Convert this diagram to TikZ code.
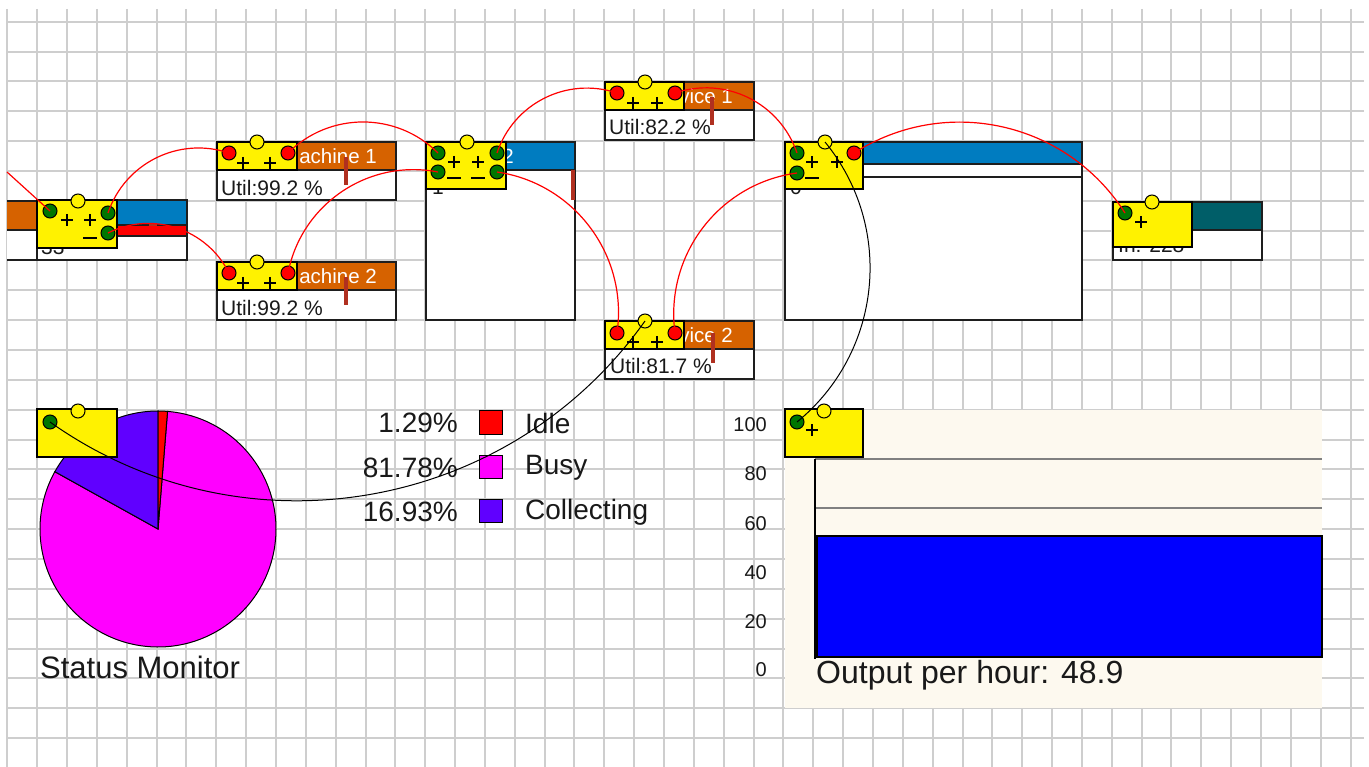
\documentclass[tikz,border=0pt]{standalone}
\usepackage{fontspec}
\setmainfont{Liberation Sans}
\definecolor{gridc}{RGB}{206,206,206}
\definecolor{orangeH}{RGB}{214,98,0}
\definecolor{blueH}{RGB}{0,124,192}
\definecolor{tealH}{RGB}{0,94,104}
\definecolor{barc}{RGB}{176,48,32}
\definecolor{dotgreen}{RGB}{0,118,0}
\definecolor{beige}{RGB}{253,249,239}
\definecolor{purpleC}{RGB}{96,0,255}
\definecolor{magentaC}{RGB}{255,0,255}
\definecolor{chartblue}{RGB}{0,0,255}
\definecolor{chartgray}{RGB}{128,128,128}
\definecolor{outl}{RGB}{30,30,30}
\definecolor{txt}{RGB}{25,25,25}
\tikzset{
  gridline/.style={draw=gridc, line width=2pt},
  boxline/.style={draw=outl, line width=1.3pt},
  yelbox/.style={fill=yellow, draw=black, line width=1.3pt},
  portdot/.style={circle, draw=black, line width=1pt, minimum size=14pt, inner sep=0pt},
  gdot/.style={portdot, fill=dotgreen},
  rdot/.style={portdot, fill=red},
  ydot/.style={portdot, fill=yellow},
  signline/.style={draw=black, line width=1.3pt},
  redwire/.style={draw=red, line width=1.2pt},
  blackwire/.style={draw=black, line width=1pt},
  hdrtext/.style={text=white, font=\fontsize{20.5}{24}\selectfont, inner sep=0pt, anchor=east},
  utiltext/.style={text=txt, font=\fontsize{21}{24}\selectfont, inner sep=0pt, anchor=west},
  fragtext/.style={text=txt, font=\fontsize{21}{24}\selectfont, inner sep=0pt, anchor=base west},
  axlab/.style={text=txt, font=\fontsize{20}{23}\selectfont, inner sep=0pt, anchor=east},
  legnum/.style={text=txt, font=\fontsize{28}{32}\selectfont, inner sep=0pt, anchor=east},
  leglab/.style={text=txt, font=\fontsize{28}{32}\selectfont, inner sep=0pt, anchor=west},
  bigtext/.style={text=txt, font=\fontsize{31}{36}\selectfont, inner sep=0pt, anchor=west},
  slice/.style={draw=black, line width=1pt},
  plussign/.pic={\draw[signline] (-6,0) -- (6,0) (0,-6) -- (0,6);},
  minussign/.pic={\draw[signline] (-7,0) -- (7,0);}
}
\begin{document}
\begin{tikzpicture}[x=1pt,y=-1pt]
\useasboundingbox (0,0) rectangle (1369,767);
\clip (0,0) rectangle (1369,767);
\fill[white] (0,0) rectangle (1369,767);
% grid
\foreach \i in {0,...,45} \draw[gridline] ({7.3+29.85*\i},9) -- ({7.3+29.85*\i},768);
\foreach \j in {0,...,25} \draw[gridline] (7,{21.7+29.85*\j}) -- (1364,{21.7+29.85*\j});

% ---------- bar chart ----------
\fill[beige] (785,410) rectangle (1322,708);
\draw[chartgray, line width=1.5pt] (815,459) -- (1322,459) (815,508) -- (1322,508);
\draw[black, line width=1.5pt] (815,459) -- (815,659);
\filldraw[fill=chartblue, draw=black, line width=1.3pt] (817,536) rectangle (1322,657);
\node[axlab] (y100) at (767,425) {100};
\node[axlab] (y80) at (767,474) {80};
\node[axlab] (y60) at (767,524) {60};
\node[axlab] (y40) at (767,573) {40};
\node[axlab] (y20) at (767,622) {20};
\node[axlab] (y0) at (767,670) {0};
\node[bigtext, font=\fontsize{32}{37}\selectfont] (oph) at (816,675) {Output per hour: 48.9};
\filldraw[yelbox] (785,409) rectangle (863,457);
\node[ydot] (ch_st) at (824,411) {};
\node[gdot] (chart_in) at (797,422) {};
\pic at (812,430) {plussign};

% ---------- pie chart ----------
\begin{scope}[shift={(158,529)}, y=1pt]
  \filldraw[fill=magentaC, slice] (0,0) -- (85.36:118) arc[start angle=85.36, end angle=-209.05, radius=118] -- cycle;
  \filldraw[fill=purpleC, slice] (0,0) -- (90:118) arc[start angle=90, end angle=150.95, radius=118] -- cycle;
  \filldraw[fill=red, slice] (0,0) -- (85.36:118) arc[start angle=85.36, end angle=90, radius=118] -- cycle;
\end{scope}
\filldraw[yelbox] (37,409) rectangle (117,457);
\node[ydot] (pie_st) at (78,411) {};
\node[gdot] (pie_in) at (50,422) {};
\node[bigtext] (stm) at (40,667) {Status Monitor};
% legend
\node[legnum] (n1) at (458,423) {1.29\%};
\node[legnum] (n2) at (458,468) {81.78\%};
\node[legnum] (n3) at (458,512) {16.93\%};
\filldraw[fill=red, slice] (479,411) rectangle (502,434);
\filldraw[fill=magentaC, slice] (479,455) rectangle (502,478);
\filldraw[fill=purpleC, slice] (479,499) rectangle (502,522);
\node[leglab] (l1) at (525,423) {Idle};
\node[leglab] (l2) at (525,468) {Busy};
\node[leglab] (l3) at (525,512) {Collecting};

% ---------- left partial element ----------
\fill[orangeH] (7,201) rectangle (37,230);
\fill[white] (7,230) rectangle (37,260);
\draw[boxline] (7,201) -- (37,201) (7,230) -- (37,230) (7,260) -- (37,260);

% ---------- element A ----------
\filldraw[fill=white, boxline] (37,200) rectangle (187,260);
\filldraw[fill=blueH, boxline] (117,200) rectangle (187,225);
\filldraw[fill=red, boxline] (117,225) rectangle (187,236);
\draw[barc, line width=2pt] (149,225) -- (157,225);
\node[fragtext] (aq) at (41,255) {33};
\filldraw[yelbox] (37,200) rectangle (117,248);
\node[ydot] (a_st) at (78,201) {};
\node[gdot] (a_in) at (50,211) {};
\node[gdot] (a_o1) at (108,213) {};
\node[gdot] (a_o2) at (108,233) {};
\pic at (67,220) {plussign};
\pic at (90,220) {plussign};
\pic at (90,238) {minussign};

% ---------- machine 1 ----------
\filldraw[fill=white, boxline] (217,142) rectangle (396,200);
\filldraw[fill=orangeH, boxline] (297,142) rectangle (396,170);
\node[hdrtext] (m1h) at (377,156) {achine 1};
\node[utiltext] (m1u) at (221,188) {Util:99.2 \%};
\fill[barc] (344,157) rectangle (348,185);
\filldraw[yelbox] (217,142) rectangle (297,170);
\node[ydot] (m1_st) at (257,142) {};
\node[rdot] (m1_in) at (229,153) {};
\node[rdot] (m1_out) at (288,153) {};
\pic at (243,163) {plussign};
\pic at (270,163) {plussign};

% ---------- machine 2 ----------
\filldraw[fill=white, boxline] (217,262) rectangle (396,320);
\filldraw[fill=orangeH, boxline] (297,262) rectangle (396,290);
\node[hdrtext] (m2h) at (377,276) {achine 2};
\node[utiltext] (m2u) at (221,308) {Util:99.2 \%};
\fill[barc] (344,277) rectangle (348,305);
\filldraw[yelbox] (217,262) rectangle (297,290);
\node[ydot] (m2_st) at (257,262) {};
\node[rdot] (m2_in) at (229,273) {};
\node[rdot] (m2_out) at (288,273) {};
\pic at (243,283) {plussign};
\pic at (270,283) {plussign};

% ---------- element C ----------
\filldraw[fill=white, boxline] (426,142) rectangle (575,320);
\filldraw[fill=blueH, boxline] (505,142) rectangle (575,170);
\node[hdrtext] (chd) at (514,156) {2};
\fill[barc] (571,170) rectangle (575,200);
\node[fragtext] (cf) at (432,195) {1};
\filldraw[yelbox] (426,142) rectangle (506,189);
\node[ydot] (c_st) at (467,142) {};
\node[gdot] (c_in1) at (438,153) {};
\node[gdot] (c_in2) at (438,172) {};
\node[gdot] (c_o1) at (497,153) {};
\node[gdot] (c_o2) at (497,172) {};
\pic at (454,162) {plussign};
\pic at (478,162) {plussign};
\pic at (454,178) {minussign};
\pic at (478,178) {minussign};

% ---------- service 1 ----------
\filldraw[fill=white, boxline] (605,82) rectangle (754,140);
\filldraw[fill=orangeH, boxline] (684,82) rectangle (754,110);
\node[hdrtext] (s1h) at (733,96) {vice 1};
\node[utiltext] (s1u) at (609,127) {Util:82.2 \%};
\fill[barc] (710,97) rectangle (714,125);
\filldraw[yelbox] (605,82) rectangle (684,110);
\node[ydot] (s1_st) at (645,82) {};
\node[rdot] (s1_in) at (617,93) {};
\node[rdot] (s1_out) at (675,93) {};
\pic at (633,103) {plussign};
\pic at (657,103) {plussign};

% ---------- service 2 ----------
\filldraw[fill=white, boxline] (605,321) rectangle (754,379);
\filldraw[fill=orangeH, boxline] (684,321) rectangle (754,349);
\node[hdrtext] (s2h) at (733,335) {vice 2};
\node[utiltext] (s2u) at (610,366) {Util:81.7 \%};
\fill[barc] (711,333) rectangle (715,363);
\filldraw[yelbox] (605,321) rectangle (684,349);
\node[ydot] (s2_st) at (645,321) {};
\node[rdot] (s2_in) at (617,333) {};
\node[rdot] (s2_out) at (675,333) {};
\pic at (633,342) {plussign};
\pic at (657,342) {plussign};

% ---------- element D ----------
\filldraw[fill=white, boxline] (785,142) rectangle (1082,320);
\filldraw[fill=blueH, boxline] (863,142) rectangle (1082,164);
\draw[boxline] (863,177) -- (1082,177);
\node[fragtext] (df) at (790,195) {0};
\filldraw[yelbox] (785,142) rectangle (863,189);
\node[ydot] (d_st) at (825,142) {};
\node[gdot] (d_in1) at (797,153) {};
\node[gdot] (d_in2) at (797,173) {};
\node[rdot] (d_out) at (854,153) {};
\pic at (812,162) {plussign};
\pic at (837,162) {plussign};
\pic at (812,178) {minussign};

% ---------- element E ----------
\filldraw[fill=white, boxline] (1113,202) rectangle (1262,260);
\filldraw[fill=tealH, boxline] (1192,202) rectangle (1262,230);
\node[fragtext] (ef) at (1118,253) {In: 228};
\filldraw[yelbox] (1113,202) rectangle (1192,247);
\node[ydot] (e_st) at (1152,202) {};
\node[gdot] (e_in) at (1125,213) {};
\pic at (1141,222) {plussign};

% ---------- connectors ----------
\coordinate (src) at (7,172);
\draw[redwire] (src) -- (a_in.center);
\draw[redwire] (a_o1.center) to[bend left=45] (m1_in.center);
\draw[redwire] (a_o2.center) to[bend left=45] (m2_in.center);
\draw[redwire] (m1_out.center) to[bend left=45] (c_in1.center);
\draw[redwire] (m2_out.center) to[bend left=45] (c_in2.center);
\draw[redwire] (c_o1.center) to[bend left=45] (s1_in.center);
\draw[redwire] (c_o2.center) to[bend left=45] (s2_in.center);
\draw[redwire] (s1_out.center) to[bend left=45] (d_in1.center);
\draw[redwire] (s2_out.center) to[bend left=45] (d_in2.center);
\draw[redwire] (d_out.center) to[bend left=45] (e_in.center);
\draw[blackwire] (pie_in.center) to[bend right=45] (s2_st.center);
\draw[blackwire] (chart_in.center) to[bend right=45] (d_st.center);
\end{tikzpicture}
\end{document}
